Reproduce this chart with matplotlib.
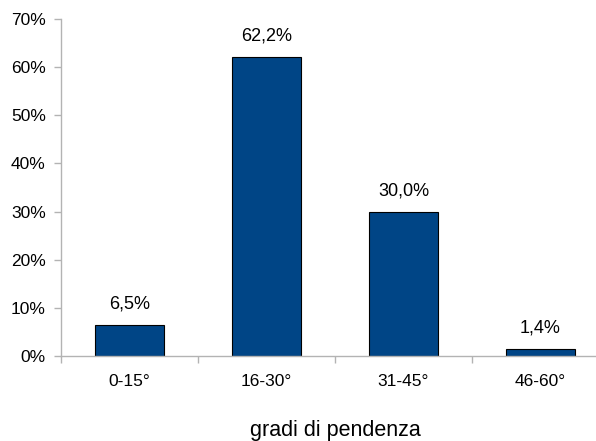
import matplotlib
matplotlib.use("Agg")
import matplotlib.pyplot as plt
import numpy as np

plt.rcParams['font.family'] = ['Liberation Sans', 'DejaVu Sans']

categorie = ["0-15°", "16-30°", "31-45°", "46-60°"]
percentuali = [6.5, 62.2, 30.0, 1.4]
etichette = ["6,5%", "62,2%", "30,0%", "1,4%"]
yticks = [0, 10, 20, 30, 40, 50, 60, 70]

fig = plt.figure(figsize=(5.96, 4.41), dpi=100)
ax = fig.add_axes([61/596, 85/441, 548/596, 337/441])

x = np.arange(len(categorie))
barre = ax.bar(x, percentuali, width=0.51, color="#004586", edgecolor="black", linewidth=0.8)

for b, t in zip(barre, etichette):
    ax.annotate(t, (b.get_x() + b.get_width()/2, b.get_height()), xytext=(0, 9),
                textcoords="offset points", ha="center", va="bottom", fontsize=13)

ax.set_xlim(-0.5, 3.5)
ax.set_ylim(0, 70)
ax.set_yticks(yticks)
ax.set_yticklabels([f"{v}%" for v in yticks], fontsize=12.5)
ax.set_xticks(x)
ax.set_xticklabels(categorie, fontsize=12.5)
ax.set_xticks(np.arange(-0.5, 4.0, 1.0), minor=True)
ax.tick_params(axis="x", which="major", length=0, pad=13)
ax.tick_params(axis="x", which="minor", length=5, color="#b3b3b3", width=1)
ax.tick_params(axis="y", length=5, color="#b3b3b3", width=1, pad=6)

for s in ["top", "right"]:
    ax.spines[s].set_visible(False)
for s in ["left", "bottom"]:
    ax.spines[s].set_color("#b3b3b3")
    ax.spines[s].set_linewidth(1)

ax.set_xlabel("gradi di pendenza", fontsize=15.5, labelpad=22.5)

fig.savefig("out.png", dpi=100)
